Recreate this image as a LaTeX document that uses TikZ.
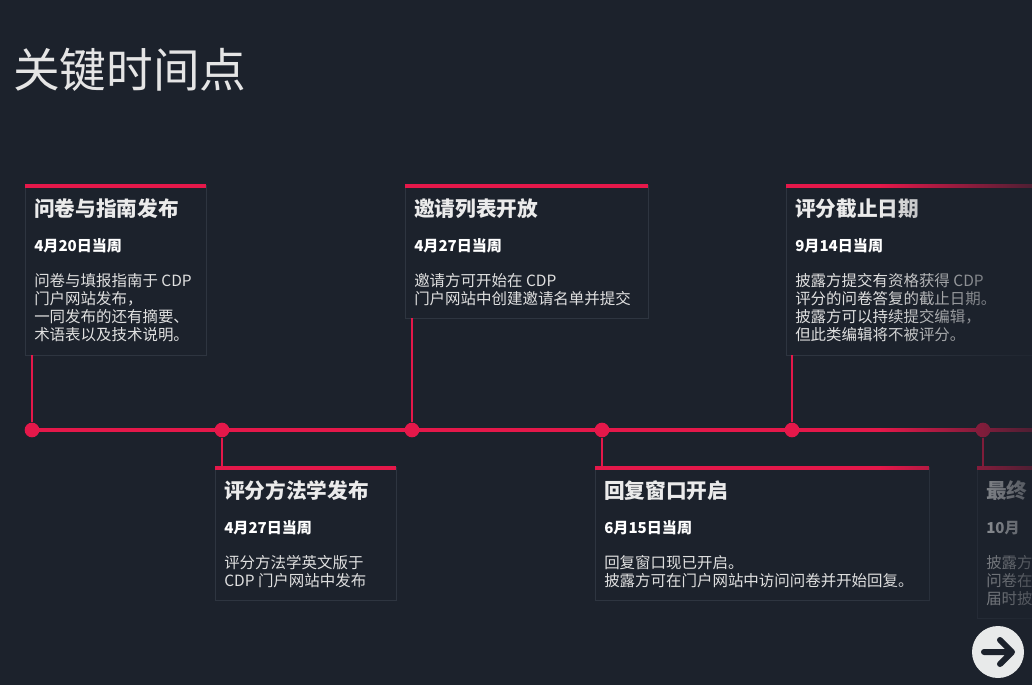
\documentclass[tikz,border=0pt]{standalone}
\usepackage{fontspec}
\setmainfont{Noto Sans CJK SC}
\usetikzlibrary{fadings}
\definecolor{bg}{HTML}{1C222C}
\definecolor{cdpred}{HTML}{E5184A}
\definecolor{cardline}{HTML}{2E3540}
\definecolor{btn}{HTML}{E8EAEA}
\tikzfading[name=fade right, left color=transparent!100, right color=transparent!25]
\tikzset{
  box/.style={draw=cardline, line width=0.75pt},
  bar/.style={cdpred, line width=2.5pt},
  stem/.style={cdpred, line width=2.2pt},
  dot/.style={circle, fill=cdpred, inner sep=0pt, minimum size=11pt},
  ttl/.style={anchor=base west, inner sep=0pt, text=white!92!black, font=\fontsize{15.5}{18}\selectfont\bfseries},
  dte/.style={anchor=base west, inner sep=0pt, text=white, font=\fontsize{11.3}{13}\selectfont\bfseries},
  txt/.style={anchor=north west, inner sep=0pt, align=left, text=white!88!black, font=\fontsize{11.6}{13.6}\selectfont},
}
\begin{document}
\begin{tikzpicture}[x=0.75pt, y=-0.75pt]
  \useasboundingbox (0,0) rectangle (1032,685);
  \clip (0,0) rectangle (1032,685);
  \fill[bg] (0,0) rectangle (1032,685);
  \node[anchor=base west, inner sep=0pt, text=white!90!black, font=\fontsize{35}{38}\selectfont] (title) at (13,88) {关键时间点};

  % timeline
  \draw[cdpred, line width=3pt] (25,430) -- (1032,430);
  \foreach \x/\n in {32/d1,222/d2,412/d3,602/d4,792/d5,983/d6}
    \node[dot] (\n) at (\x,430) {};

  % cards above
  \draw[box] (25,185) rectangle (206,355);
  \draw[box] (405,185) rectangle (648,318);
  \draw[box] (786,185) rectangle (1040,355);
  \draw[bar] (25,186) -- (206,186);
  \draw[bar] (405,186) -- (648,186);
  \draw[bar] (786,186) -- (1032,186);
  \coordinate (c1) at (32,355);
  \coordinate (c3) at (412,318);
  \coordinate (c5) at (792,355);
  \draw[stem] (d1) -- (c1);
  \draw[stem] (d3) -- (c3);
  \draw[stem] (d5) -- (c5);

  % cards below
  \draw[box] (215,467) rectangle (396,600);
  \draw[box] (595,467) rectangle (929,600);
  \draw[box] (977,467) rectangle (1040,618);
  \draw[bar] (215,468) -- (396,468);
  \draw[bar] (595,468) -- (929,468);
  \draw[bar] (977,468) -- (1032,468);
  \coordinate (c2) at (222,467);
  \coordinate (c4) at (602,467);
  \coordinate (c6) at (983,467);
  \draw[stem] (d2) -- (c2);
  \draw[stem] (d4) -- (c4);
  \draw[stem] (d6) -- (c6);

  % texts
  \node[ttl] (t1) at (34,216) {问卷与指南发布};
  \node[dte] (a1) at (34,251) {4月20日当周};
  \node[txt] (b1) at (34,273) {问卷与填报指南于 CDP\\门户网站发布，\\一同发布的还有摘要、\\术语表以及技术说明。};

  \node[ttl] (t3) at (414,216) {邀请列表开放};
  \node[dte] (a3) at (414,251) {4月27日当周};
  \node[txt] (b3) at (414,273) {邀请方可开始在 CDP\\门户网站中创建邀请名单并提交};

  \node[ttl] (t5) at (795,216) {评分截止日期};
  \node[dte] (a5) at (795,251) {9月14日当周};
  \node[txt] (b5) at (795,273) {披露方提交有资格获得 CDP\\评分的问卷答复的截止日期。\\披露方可以持续提交编辑，\\但此类编辑将不被评分。};

  \node[ttl] (t2) at (224,498) {评分方法学发布};
  \node[dte] (a2) at (224,533) {4月27日当周};
  \node[txt] (b2) at (224,555) {评分方法学英文版于\\CDP 门户网站中发布};

  \node[ttl] (t4) at (604,498) {回复窗口开启};
  \node[dte] (a4) at (604,533) {6月15日当周};
  \node[txt] (b4) at (604,555) {回复窗口现已开启。\\披露方可在门户网站中访问问卷并开始回复。};

  \node[ttl] (t6) at (986,498) {最终};
  \node[dte] (a6) at (986,533) {10月};
  \node[txt] (b6) at (986,555) {披露方\\问卷在\\届时披};

  % fade to the right
  \fill[bg, path fading=fade right] (880,150) rectangle (1032,630);

  % next button
  \node[circle, fill=btn, minimum size=39pt, inner sep=0pt] (next) at (998,652) {};
  \draw[bg, line width=4.5pt, line cap=round, line join=round]
    (984,652) -- (1012,652) (1000,640) -- (1012,652) -- (1000,664);
\end{tikzpicture}
\end{document}
